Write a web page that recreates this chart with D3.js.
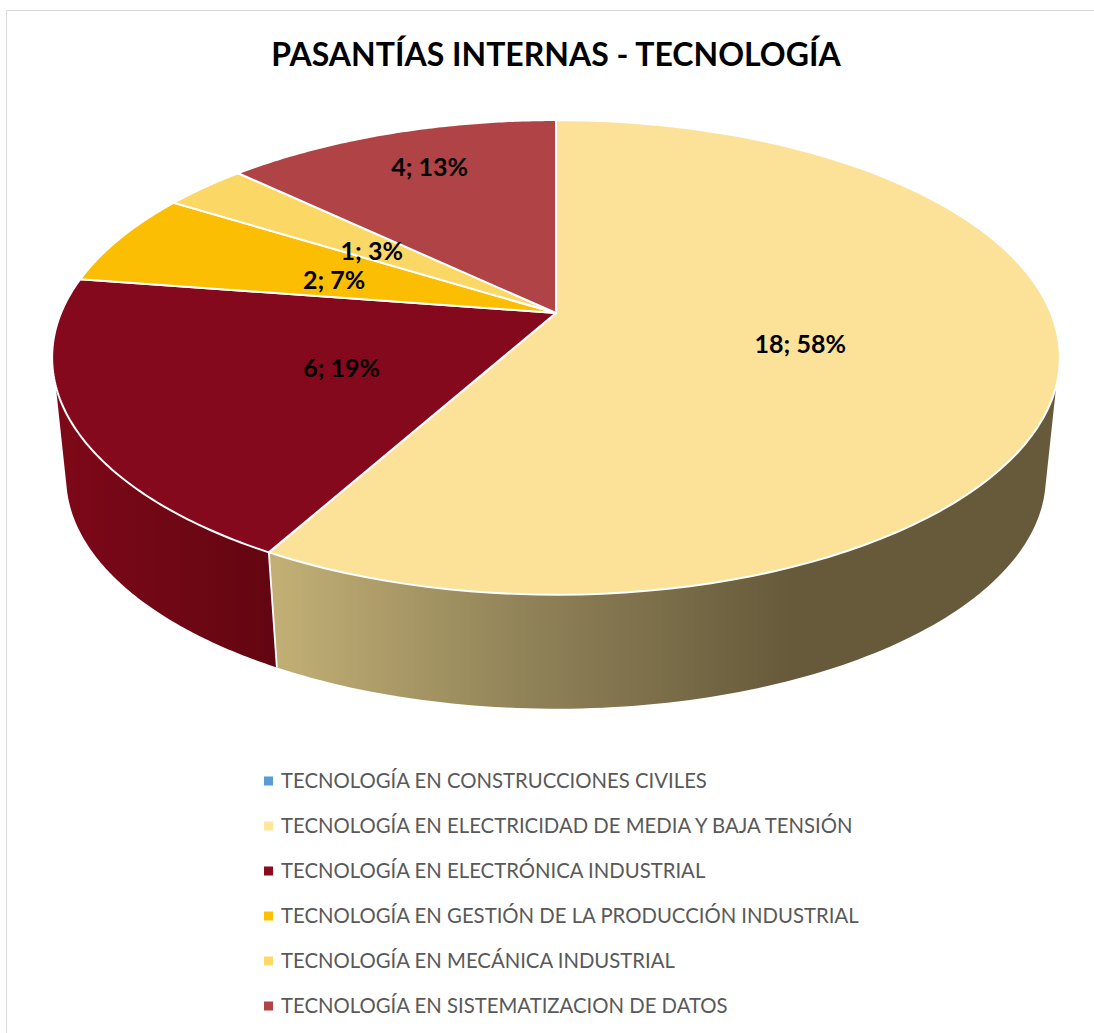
<!DOCTYPE html>
<html><head><meta charset="utf-8">
<script src="https://cdnjs.cloudflare.com/ajax/libs/d3/7.8.5/d3.min.js"></script>
<style>html,body{margin:0;padding:0;background:#fff}svg{display:block}</style>
</head><body><svg id="c" width="1094" height="1033"></svg>
<script>
const titleText = "PASANTÍAS INTERNAS - TECNOLOGÍA";
const categories = [
  "TECNOLOGÍA EN CONSTRUCCIONES CIVILES",
  "TECNOLOGÍA EN ELECTRICIDAD DE MEDIA Y BAJA TENSIÓN",
  "TECNOLOGÍA EN ELECTRÓNICA INDUSTRIAL",
  "TECNOLOGÍA EN GESTIÓN DE LA PRODUCCIÓN INDUSTRIAL",
  "TECNOLOGÍA EN MECÁNICA INDUSTRIAL",
  "TECNOLOGÍA EN SISTEMATIZACION DE DATOS"
];
const values = [0, 18, 6, 2, 1, 4];
const percents = [0, 58, 19, 7, 3, 13];
const topColors = ["#5b9bd5", "#fbe298", "#85091c", "#fbbe02", "#fbd766", "#af4345"];
const legendColors = ["#5b9bd5", "#ffe699", "#8b0a1e", "#ffc000", "#ffd966", "#b04444"];
const labelRadii = [0, 0.499, 0.474, 0.484, 0.485, 0.78];
const labelTurns = [0, 0.8, -2.9, -2.5, -1.7, 1.4];

const svg = d3.select("#c");
const FONT = "Lato, 'Open Sans', sans-serif";

// Perspective projection of the pie disc
const cx = 556, y0 = 313, A = 495, B = 229, p = -0.187;
const sideScaleX = 0.972, sideScaleY = 0.975, sideDrop = 120;
const ellipseCy = 357;
const rad = d3.scaleLinear().domain([0, 180]).range([0, Math.PI]);
function project(t, r) {
  const u = r * Math.sin(t), v = -r * Math.cos(t), d = 1 + p * v;
  return [cx + A * u / d, y0 + B * v / d];
}
function projectBottom(t) {
  const [x, y] = project(t, 1);
  return [cx + (x - cx) * sideScaleX, ellipseCy + sideDrop + (y - ellipseCy) * sideScaleY];
}
const sampleAngles = (a, b) => d3.range(0, 101).map(i => d3.interpolateNumber(a, b)(i / 100));
const line = d3.line();

const pie = d3.pie().value(d => d).sort(null).startAngle(0).endAngle(2 * Math.PI);
const arcs = pie(values);

// Gradients for side walls
const defs = svg.append("defs");
function grad(id, x1, x2, stops) {
  const g = defs.append("linearGradient").attr("id", id).attr("gradientUnits", "userSpaceOnUse")
    .attr("x1", x1).attr("x2", x2).attr("y1", 0).attr("y2", 0);
  stops.forEach(s => g.append("stop").attr("offset", s[0]).attr("stop-color", s[1]));
}
grad("sideY", 277, 790, [[0, "#c1af75"], [0.5, "#8f8157"], [1, "#665a3b"]]);
grad("sideR", 60, 275, [[0, "#7d0818"], [1, "#630611"]]);

// Frame
svg.append("path").attr("d", d3.line()([[6.5, 1033], [6.5, 10.5], [1094, 10.5]]))
  .attr("fill", "none").attr("stroke", "#d9d9d9").attr("stroke-width", 1);

// Side walls: the rim and the lower edge leave the silhouette at different angles
const topVis = [rad(107.5), rad(252.5)], bottomVis = [rad(104), rad(256)];
const sideFill = { 1: "url(#sideY)", 2: "url(#sideR)" };
[1, 2].forEach(i => {
  const upper = sampleAngles(Math.max(arcs[i].startAngle, topVis[0]), Math.min(arcs[i].endAngle, topVis[1]));
  const lower = sampleAngles(Math.max(arcs[i].startAngle, bottomVis[0]), Math.min(arcs[i].endAngle, bottomVis[1]));
  const pts = upper.map(t => project(t, 1)).concat(lower.reverse().map(projectBottom));
  svg.append("path").attr("d", line(pts) + "Z").attr("fill", sideFill[i]);
});
// Seam between walls
const seamT = arcs[1].endAngle;
svg.append("path").attr("d", line([project(seamT, 1), projectBottom(seamT)]))
  .attr("stroke", "#fff").attr("stroke-width", 1.8).attr("fill", "none");

// Top slices
arcs.forEach((a, i) => {
  if (a.endAngle <= a.startAngle) return;
  const pts = [project(0, 0)].concat(sampleAngles(a.startAngle, a.endAngle).map(t => project(t, 1)));
  svg.append("path").attr("d", line(pts) + "Z")
    .attr("fill", topColors[i]).attr("stroke", "#fff").attr("stroke-width", 2).attr("stroke-linejoin", "round");
});

// Data labels
arcs.forEach((a, i) => {
  if (!a.value) return;
  const [x, y] = project((a.startAngle + a.endAngle) / 2 + rad(labelTurns[i]), labelRadii[i]);
  svg.append("text").attr("x", x).attr("y", y).attr("dy", "0.35em").attr("text-anchor", "middle")
    .attr("font-family", FONT).attr("font-weight", 700).attr("font-size", 25).attr("fill", "#000")
    .text(`${a.value}; ${percents[i]}%`);
});

// Title
svg.append("text").attr("x", 556).attr("y", 66).attr("text-anchor", "middle")
  .attr("font-family", FONT).attr("font-weight", 700).attr("font-size", 32).attr("fill", "#000")
  .text(titleText);

// Legend
const legendY = d3.scalePoint().domain(categories).range([781, 1006]);
categories.forEach((c, i) => {
  const y = legendY(c);
  svg.append("rect").attr("x", 264).attr("y", y - 4.5).attr("width", 9).attr("height", 9).attr("fill", legendColors[i]);
  svg.append("text").attr("transform", `translate(281,${y}) scale(0.968,1)`).attr("dy", "0.35em")
    .attr("font-family", FONT).attr("font-size", 21).attr("fill", "#595959").text(c);
});
</script></body></html>
